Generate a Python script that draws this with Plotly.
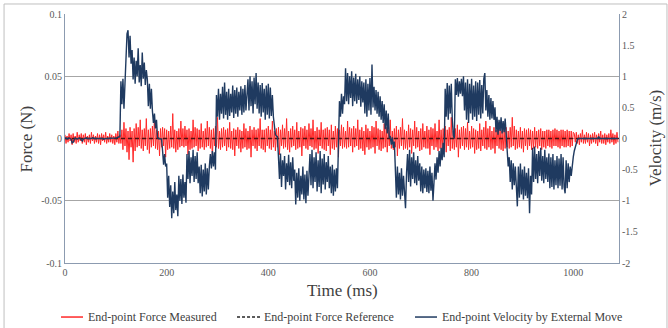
import plotly.graph_objects as go

# ---------------- data (sampled every 2 ms) ----------------
# End-point velocity, in units of 0.01 m/s
velocity_cms = [
    # 0-108
    0, 1, -1, 0, 1, 0, -1, -7, -6, -2, 1, 0, -1, 0, 1, 0, -3, -4, -1, 0,
    0, 1, 0, 0, -1, 0, 0, 1, 0, 0, 0, 0, 0, 1, 0, 0, 0, 0, -1, 0,
    0, 0, 0, 0, 0, 0, 0, 0, 0, 1, 0, 1, 2, 2, 3,
    # 110-128
    92, 55, 96, 48, 88, 135, 168, 174, 130, 165,
    # 130-160
    120, 142, 95, 130, 88, 125, 100, 145, 90, 118, 84, 138, 96, 122, 86, 110,
    # 162-198
    95, 52, 88, 48, 80, 44, 25, 40, 16, 30, 2, 0, 0, 0, -1, -20, -42, -25, -45,
    # 200-238
    -40, -95, -60, -110, -75, -128, -85, -120, -70, -115, -90, -125,
    -60, -100, -65, -105, -58, -95, -70, -103,
    # 240-296
    -25, -65, -20, -72, -30, -60, -18, -70, -28, -65, -22, -72, -45, -88, -42, -93,
    -50, -85, -40, -90, -48, -82, -45, -25, -48, -20, -45, -22, -50,
    # 298-358
    70, 35, 80, 30, 72, 40, 83, 32, 90, 38, 75, 30, 80, 36, 72, 42, 85, 33, 78, 40,
    82, 35, 75, 45, 84, 38, 80, 42, 86, 45, 78,
    # 360-418
    95, 45, 100, 52, 92, 40, 98, 55, 105, 48, 90,
    40, 86, 35, 89, 42, 80, 30, 85, 38, 88, 32, 82, 36, 70, 35, 15, 6, 4, 3,
    # 420-480
    -30, -65, -24, -78, -35, -60, -28, -82, -40, -70, -26, -75, -38, -80, -30, -68,
    -50, -106, -55, -95, -48, -100, -60, -90, -45, -98, -58, -104, -52, -92, -60,
    # 482-536
    -25, -75, -18, -80, -30, -70, -22, -85, -35, -78, -20, -88, -32, -74, -25, -82,
    -38, -70, -28, -80, -45, -88, -42, -92, -50, -85, -48, -80,
    # 538-606
    22, 60, 35, 72, 40, 68, 55,
    113, 60, 105, 55, 100, 65, 108, 52, 98, 60, 104, 56, 95, 62, 100, 51, 92, 58,
    90, 40, 95, 35, 88, 45, 97, 38, 119, 50,
    # 608-648
    83, 45, 78, 40, 75, 35, 68, 30, 60, 25, 55, 15, 45, 8, 40, 2, 3, -10, 2, -15, -5,
    # 650-698
    -50, -95, -45, -90, -55, -98, -48, -92, -60, -96, -112, -55,
    -25, -70, -18, -77, -30, -65, -22, -72, -35, -75, -28, -68, -40,
    # 700-746
    -85, -45, -88, -50, -80, -48, -86, -52, -88, -45, -84, -55, -100,
    -60, -40, -66, -30, -55, -20, -45, -15, -35, -7, -30,
    # 748-786
    80, 35, 89, 30, 85, 40, 88, 30, 5, 0, 95, 70, 97, 67, 92, 72, 96, 68, 100, 45,
    # 788-846
    90, 30, 95, 25, 88, 40, 96, 30, 85, 35, 92, 28, 90, 38, 94, 32, 86, 40, 96, 105,
    45, 78, 35, 70, 30, 65, 32, 60, 30, 50,
    # 848-890
    10, 35, 6, 30, 12, 34, 8, 28, 10, 32, 6,
    -10, -45, -30, -70, -35, -82, -40, -75, -45, -80, -109,
    # 892-950
    -45, -95, -40, -90, -50, -98, -45, -92, -55, -96, -48, -120, -60, -90,
    -15, -70, -13, -65, -25, -72, -20, -60, -15, -68, -28, -72, -18, -65, -30, -70,
    # 952-1010
    -24, -80, -30, -78, -25, -82, -35, -75, -28, -80, -32, -76, -25, -82, -30, -78,
    -88, -35, -80, -40, -70, -45, -60, -40, -30, -20, -12, -6, -2, 0,
    # 1012-1088
    0, 0, 0, 0, 0, 0, 0, 0, 0, 0, 0, 0, 0, 0, 0, 0, 0, 0, 0, 3,
    0, 0, 0, 0, 0, 0, 0, 0, 0, 0, 0, 0, 0, 0, 0, 0, 0, 0, 0,
]

# End-point force measured, in units of 0.001 N
force_mN = [
    # 0-110 (quiet)
    3, -4, 2, -3, 4, -2, 3, -5, 4, -3, 2, -4, 5, -3, 3, -2, 4, -4, 3, -3,
    4, -5, 2, -3, 3, -4, 5, -2, 3, -4, 2, -3, 4, -4, 3, -5, 4, -2, 3, -3,
    5, -4, 2, -3, 4, -3, 3, -4, 2, -5, 4, -3, 6, -4, 3, -4,
    # 112-1000 (active)
    7, -9, 13, -6, 8, -11, 6, -17, 9, -7, 6, -19, 8, -10, 12, -7, 9, -6, 15, -8,
    7, -10, 8, -6, 16, -9, 7, -12, 8, -7, 10, -6, 17, -8, 7, -9, 6, -14, 8, -7,
    9, -6, 8, -15, 7, -9, 6, -8, 10, -7, 20, -8, 7, -11, 6, -9, 8, -7, 14, -6,
    8, -7, 10, -6, 7, -13, 8, -9, 6, -8, 15, -7, 9, -6, 8, -10, 7, -8, 12, -7,
    6, -9, 8, -7, 14, -6, 9, -8, 7, -15, 8, -6, 10, -7, 17, -8, 6, -9, 8, -7,
    9, -6, 7, -10, 8, -7, 13, -8, 6, -9, 8, -14, 7, -6, 9, -8, 7, -11, 6, -8,
    12, -7, 8, -9, 6, -8, 10, -15, 7, -6, 9, -8, 7, -10, 8, -6, 16, -8, 7, -9,
    7, -11, 8, -6, 10, -8, 7, -9, 14, -7, 6, -10, 8, -7, 9, -13, 7, -6, 11, -8,
    8, -7, 16, -9, 6, -11, 8, -7, 10, -6, 7, -9, 13, -8, 6, -7, 9, -14, 8, -6,
    10, -8, 7, -9, 12, -6, 8, -7, 15, -9, 6, -8, 9, -12, 7, -6, 13, -8, 7, -9,
    8, -10, 9, -6, 7, -13, 11, -8, 6, -9, 10, -7, 8, -15, 7, -6, 11, -8, 9, -7,
    6, -8, 14, -7, 9, -6, 8, -11, 10, -7, 8, -6, 15, -9, 7, -8, 9, -10, 6, -13,
    11, -7, 8, -9, 6, -8, 10, -7, 9, -12, 14, -6, 8, -9, 7, -10, 6, -8, 12, -7,
    9, -11, 7, -6, 15, -8, 6, -9, 8, -7, 10, -14, 7, -8, 9, -6, 16, -9, 7, -8,
    6, -9, 11, -7, 8, -12, 7, -6, 14, -8, 9, -7, 6, -10, 8, -9, 12, -7, 6, -8,
    10, -8, 7, -13, 9, -6, 8, -9, 12, -7, 6, -10, 15, -8, 7, -9, 8, -6, 10, -11,
    7, -6, 9, -10, 17, -8, 6, -9, 8, -7, 11, -15, 7, -8, 9, -6, 10, -9, 8, -7,
    13, -9, 6, -8, 10, -7, 8, -12, 7, -9, 6, -8, 12, -10, 7, -6, 9, -8, 14, -9,
    8, -7, 10, -9, 6, -8, 9, -12, 7, -6, 13, -8, 8, -9, 6, -10, 7, -8, 9, -7,
    6, -8, 9, -7, 17, -6, 10, -9, 7, -8, 6, -7, 9, -8, 6, -11, 8, -6, 7, -9,
    8, -6, 7, -9, 6, -8, 9, -7, 6, -8, 7, -6, 8, -9, 6, -7, 6, -8, 7, -6,
    7, -7, 6, -8, 7, -6, 8, -6, 7, -7, 6, -8, 7, -6, 7, -7, 6, -7, 7, -6,
    6, -7, 6, -6, 5,
    # 1002-1088 (quiet)
    4, -3, 5, -4, 3, -5, 4, -3, 7, -4, 3, -4, 5, -3, 4, -6, 3, -4, 4, -3,
    5, -4, 3, -6, 4, -3, 6, -4, 3, -4, 4, -5, 3, -3, 4, -4, 7, -3, 4, -5,
    3, -4, 5, -3,
]

SAMPLE_MS = 2
time_v = [SAMPLE_MS * i for i in range(len(velocity_cms))]
time_f = [SAMPLE_MS * i for i in range(len(force_mN))]
velocity = [v / 100.0 for v in velocity_cms]          # m/s
force_measured = [f / 1000.0 for f in force_mN]       # N
ref_time = [0, 1090]
force_reference = [0.0, 0.0]                          # N

x_ticks = [0, 200, 400, 600, 800, 1000]
force_ticks = [-0.1, -0.05, 0, 0.05, 0.1]
force_tick_labels = ["-0.1", "-0.05", "0", "0.05", "0.1"]
vel_ticks = [-2, -1.5, -1, -0.5, 0, 0.5, 1, 1.5, 2]
vel_tick_labels = ["-2", "-1.5", "-1", "-0.5", "0", "0.5", "1", "1.5", "2"]

legend_names = ["End-point Force Measured", "End-point Force Reference",
                "End-point Velocity by External Move"]

# ---------------- figure ----------------
FONT = "Liberation Serif, Times New Roman, serif"
AXIS_COL = "#8C9BB0"
GRID_COL = "#A6A6A6"
TICK_FONT = dict(family=FONT, size=10, color="#595959")
TITLE_FONT = dict(family=FONT, size=17, color="#404040")
RED = "rgb(255,40,40)"
NAVY = "#1F3A60"
DASH_COL = "#4A1212"
DASH_LEG = "#262626"

fig = go.Figure()
# force on the base (left) axis: drawn first, underneath
fig.add_trace(go.Scatter(x=time_f, y=force_measured, name=legend_names[0], mode="lines",
                         line=dict(color=RED, width=1), yaxis="y"))
fig.add_trace(go.Scatter(x=ref_time, y=force_reference, name=legend_names[1], mode="lines",
                         line=dict(color=DASH_COL, width=1.6, dash="4px,3px"), yaxis="y"))
# velocity on the overlaying (right) axis: drawn on top
fig.add_trace(go.Scatter(x=time_v, y=velocity, name=legend_names[2], mode="lines",
                         line=dict(color=NAVY, width=1.4), yaxis="y2"))

# manual legend (paper coordinates)
LEG_Y = -0.217
leg_items = [
    (-0.0072, 0.0325, 0.0379, RED, "solid", legend_names[0]),
    (0.3105, 0.3520, 0.3556, DASH_LEG, "3px,2px", legend_names[1]),
    (0.6318, 0.6715, 0.6769, NAVY, "solid", legend_names[2]),
]
shapes = [
    dict(type="rect", xref="paper", yref="paper", x0=-0.110, x1=1.0866,
         y0=-0.35, y1=1.0402, line=dict(color="#BFBFBF", width=1),
         fillcolor="rgba(0,0,0,0)", layer="below"),
]
annotations = [
    dict(text="Force (N)", xref="paper", yref="paper", x=-0.0686, y=0.5,
         textangle=-90, showarrow=False, font=TITLE_FONT,
         xanchor="center", yanchor="middle"),
    dict(text="Velocity (m/s)", xref="paper", yref="paper", x=1.065, y=0.5,
         textangle=-90, showarrow=False, font=TITLE_FONT,
         xanchor="center", yanchor="middle"),
    dict(text="Time (ms)", xref="paper", yref="paper", x=0.5, y=-0.1124,
         showarrow=False, font=TITLE_FONT, xanchor="center", yanchor="middle"),
]
for x0, x1, xt, col, dash, name in leg_items:
    shapes.append(dict(type="line", xref="paper", yref="paper", x0=x0, x1=x1,
                       y0=LEG_Y, y1=LEG_Y, line=dict(color=col, width=1.5, dash=dash)))
    annotations.append(dict(text=name, xref="paper", yref="paper", x=xt, y=LEG_Y,
                            showarrow=False, xanchor="left", yanchor="middle",
                            font=dict(family=FONT, size=12, color="#404040")))

fig.update_layout(
    width=668, height=328,
    margin=dict(l=65, r=49, t=14, b=65),
    paper_bgcolor="white", plot_bgcolor="white",
    font=dict(family=FONT, size=10, color="#595959"),
    showlegend=False,
    xaxis=dict(range=[0, 1090], tickvals=x_ticks, showgrid=False, zeroline=False,
               showline=True, linecolor=AXIS_COL, linewidth=1, ticks="",
               tickfont=TICK_FONT, automargin=False),
    yaxis=dict(range=[-0.1, 0.1], tickvals=force_ticks, ticktext=force_tick_labels,
               side="left", showgrid=True, gridcolor=GRID_COL,
               gridwidth=1, zeroline=False, showline=True, linecolor=AXIS_COL,
               linewidth=1, ticks="", tickfont=TICK_FONT, automargin=False),
    yaxis2=dict(range=[-2, 2], tickvals=vel_ticks, ticktext=vel_tick_labels,
                overlaying="y", side="right", showgrid=False, zeroline=False,
                showline=True, linecolor=AXIS_COL, linewidth=1, ticks="",
                tickfont=TICK_FONT, automargin=False),
    annotations=annotations,
    shapes=shapes,
)

fig.write_html("out.html",
               config={"displayModeBar": False},
               post_script="document.body.style.margin='0px';"
                           "document.body.style.overflow='hidden';")
